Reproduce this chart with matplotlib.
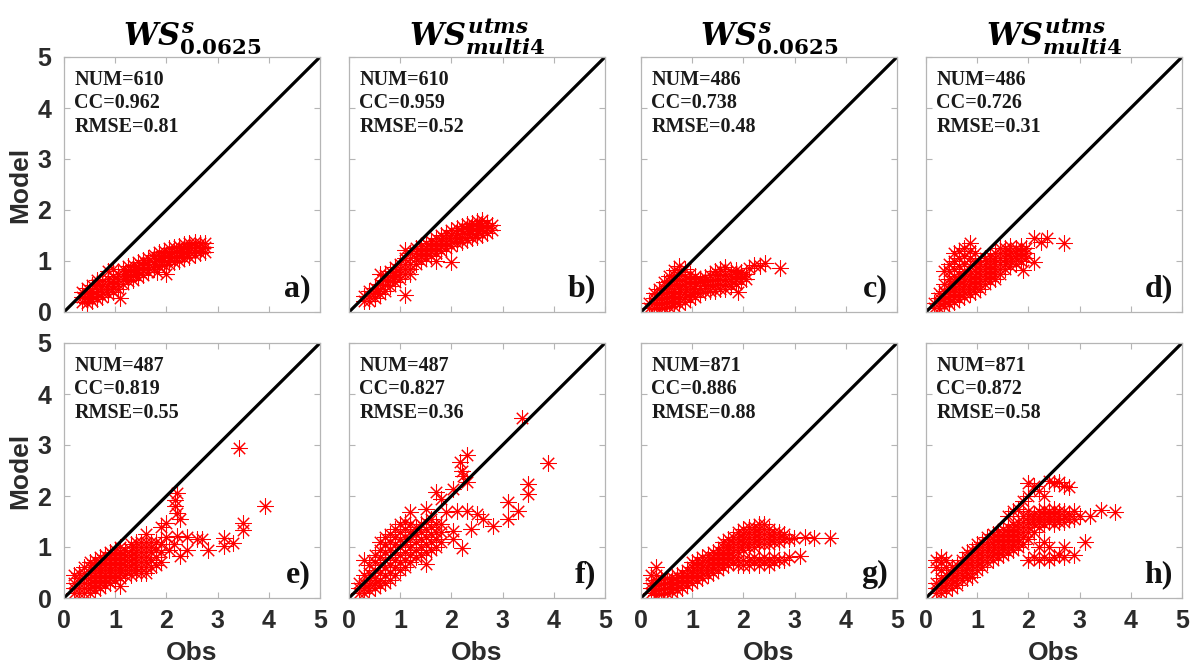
import numpy as np
import matplotlib
matplotlib.use('Agg')
import matplotlib.pyplot as plt

plt.rcParams['mathtext.fontset'] = 'custom'
plt.rcParams['mathtext.it'] = 'DejaVu Serif:italic:bold'
plt.rcParams['mathtext.rm'] = 'DejaVu Serif:bold'
plt.rcParams['mathtext.bf'] = 'DejaVu Serif:bold'

# panel titles, stats and labels
titles = [r'$WS^{s}_{0.0625}$', r'$WS^{utms}_{multi4}$', r'$WS^{s}_{0.0625}$', r'$WS^{utms}_{multi4}$']
nums = [610, 610, 486, 486, 487, 487, 871, 871]
ccs = ['0.962', '0.959', '0.738', '0.726', '0.819', '0.827', '0.886', '0.872']
rmses = ['0.81', '0.52', '0.48', '0.31', '0.55', '0.36', '0.88', '0.58']
panel_tags = ['a)', 'b)', 'c)', 'd)', 'e)', 'f)', 'g)', 'h)']
ticks = [0, 1, 2, 3, 4, 5]

# scatter clouds: (obs, [model values at that obs])
a_cols = [(0.35, [0.2, 0.3, 0.4]), (0.45, [0.18, 0.28, 0.38, 0.48]), (0.55, [0.22, 0.32, 0.42, 0.52]),
          (0.65, [0.25, 0.35, 0.45, 0.55, 0.62]), (0.75, [0.3, 0.4, 0.5, 0.6]), (0.85, [0.35, 0.45, 0.55, 0.65, 0.8]),
          (0.95, [0.4, 0.5, 0.6, 0.7, 0.85]), (1.05, [0.45, 0.55, 0.65, 0.75]), (1.15, [0.55, 0.65, 0.75, 0.85]),
          (1.25, [0.6, 0.7, 0.8, 0.9]), (1.35, [0.62, 0.72, 0.82, 0.92]), (1.45, [0.68, 0.78, 0.88, 0.98]),
          (1.55, [0.72, 0.82, 0.92, 1.02]), (1.65, [0.78, 0.88, 0.98, 1.05]), (1.75, [0.85, 0.95, 1.05, 1.12]),
          (1.85, [0.9, 1.0, 1.1, 1.18]), (1.95, [0.92, 1.02, 1.12, 1.2]), (2.05, [0.95, 1.05, 1.15, 1.25]),
          (2.15, [0.98, 1.08, 1.18, 1.28]), (2.25, [1.0, 1.1, 1.2, 1.3]), (2.35, [1.05, 1.15, 1.25, 1.33]),
          (2.45, [1.08, 1.18, 1.28, 1.36]), (2.55, [1.12, 1.22, 1.32, 1.38]), (2.65, [1.15, 1.25, 1.35]),
          (2.75, [1.18, 1.28, 1.36]), (1.09, [0.27]), (1.81, [0.79]), (2.0, [0.75])]

b_cols = [(0.3, [0.22, 0.32]), (0.4, [0.22, 0.32, 0.42]), (0.5, [0.28, 0.38, 0.48]), (0.6, [0.35, 0.45, 0.55, 0.75]),
          (0.7, [0.42, 0.52, 0.62, 0.72]), (0.8, [0.5, 0.6, 0.7, 0.8]), (0.9, [0.58, 0.68, 0.78, 0.88]),
          (1.0, [0.65, 0.75, 0.85, 0.95]), (1.1, [0.75, 0.85, 0.95, 1.05, 1.21, 0.33]), (1.2, [0.85, 0.95, 1.05, 1.15, 0.75]),
          (1.3, [0.95, 1.05, 1.15, 1.25]), (1.4, [1.0, 1.1, 1.2, 1.3]), (1.5, [1.05, 1.15, 1.25, 1.35]),
          (1.6, [1.1, 1.2, 1.3, 1.4]), (1.7, [1.0, 1.15, 1.25, 1.35, 1.45]), (1.8, [1.2, 1.3, 1.4, 1.5]),
          (1.9, [1.25, 1.35, 1.45, 1.55]), (2.0, [0.99, 1.3, 1.4, 1.5, 1.6]), (2.1, [1.35, 1.45, 1.55, 1.65]),
          (2.2, [1.38, 1.48, 1.58, 1.68]), (2.3, [1.42, 1.52, 1.62, 1.72]), (2.4, [1.45, 1.55, 1.65, 1.75]),
          (2.5, [1.48, 1.58, 1.68, 1.78]), (2.6, [1.5, 1.6, 1.7, 1.8]), (2.7, [1.55, 1.65, 1.75]), (2.8, [1.6, 1.7])]

c_cols = [(0.15, [0.08, 0.18]), (0.25, [0.08, 0.18, 0.28, 0.38]), (0.35, [0.05, 0.15, 0.25, 0.35, 0.45]),
          (0.45, [0.08, 0.18, 0.28, 0.38, 0.48, 0.58]), (0.55, [0.1, 0.2, 0.3, 0.4, 0.5, 0.6, 0.7]),
          (0.65, [0.12, 0.22, 0.32, 0.42, 0.52, 0.62, 0.72, 0.82]), (0.75, [0.15, 0.25, 0.35, 0.45, 0.55, 0.65, 0.78, 0.9]),
          (0.85, [0.2, 0.3, 0.4, 0.5, 0.6, 0.7, 0.85]), (0.95, [0.25, 0.35, 0.45, 0.55, 0.65, 0.75]),
          (1.05, [0.3, 0.4, 0.5, 0.6, 0.7]), (1.15, [0.38, 0.48, 0.58, 0.65]), (1.25, [0.4, 0.5, 0.6, 0.68]),
          (1.35, [0.42, 0.52, 0.62, 0.72]), (1.45, [0.42, 0.52, 0.62, 0.72, 0.8]), (1.55, [0.45, 0.55, 0.65, 0.75, 0.85]),
          (1.65, [0.45, 0.55, 0.65, 0.75, 0.88]), (1.75, [0.5, 0.6, 0.7, 0.8]), (1.85, [0.55, 0.65, 0.75, 0.82]),
          (1.95, [0.6, 0.7, 0.78]), (2.05, [0.65, 0.75]), (1.9, [0.4]), (2.33, [0.9]), (2.43, [0.97]),
          (2.72, [0.87]), (2.1, [0.87]), (2.2, [0.93])]

d_cols = [(0.15, [0.08, 0.18]), (0.25, [0.08, 0.18, 0.28, 0.38]), (0.35, [0.12, 0.22, 0.32, 0.42, 0.55, 0.8]),
          (0.45, [0.15, 0.25, 0.35, 0.45, 0.55, 0.65, 0.8, 0.95]), (0.55, [0.2, 0.3, 0.4, 0.5, 0.6, 0.7, 0.85, 1.0, 1.15]),
          (0.65, [0.25, 0.35, 0.45, 0.55, 0.65, 0.75, 0.9, 1.05, 1.2]),
          (0.75, [0.3, 0.4, 0.5, 0.6, 0.7, 0.8, 0.95, 1.1, 1.25]),
          (0.85, [0.35, 0.45, 0.55, 0.65, 0.75, 0.9, 1.05, 1.2, 1.35]),
          (0.95, [0.4, 0.5, 0.6, 0.7, 0.8, 0.9, 1.0, 1.15]), (1.05, [0.45, 0.55, 0.65, 0.75, 0.85, 0.95]),
          (1.15, [0.55, 0.65, 0.75, 0.85, 0.95, 1.05]), (1.25, [0.6, 0.7, 0.8, 0.9, 1.0, 1.1]),
          (1.35, [0.65, 0.75, 0.85, 0.95, 1.05, 1.15]), (1.45, [0.75, 0.85, 0.95, 1.05, 1.15, 1.25]),
          (1.55, [0.85, 0.95, 1.05, 1.15, 1.25]), (1.65, [0.9, 1.0, 1.1, 1.2, 1.3]), (1.75, [0.95, 1.05, 1.15, 1.25]),
          (1.85, [1.0, 1.1, 1.2, 1.3]), (1.95, [1.05, 1.15, 1.25]), (2.1, [1.45, 0.99]), (2.36, [1.45]),
          (2.69, [1.35]), (1.9, [0.82]), (2.25, [1.38])]

e_cols = [(0.2, [0.1, 0.2, 0.3, 0.45]), (0.3, [0.1, 0.2, 0.3, 0.4, 0.5]), (0.4, [0.1, 0.2, 0.3, 0.4, 0.5, 0.6]),
          (0.5, [0.1, 0.2, 0.3, 0.4, 0.5, 0.6, 0.7]), (0.6, [0.15, 0.25, 0.35, 0.45, 0.55, 0.65, 0.75]),
          (0.7, [0.2, 0.3, 0.4, 0.5, 0.6, 0.7, 0.8]), (0.8, [0.25, 0.35, 0.45, 0.55, 0.65, 0.75, 0.85]),
          (0.9, [0.3, 0.4, 0.5, 0.6, 0.7, 0.8, 0.9]), (1.0, [0.35, 0.45, 0.55, 0.65, 0.75, 0.85, 0.95]),
          (1.1, [0.23, 0.4, 0.5, 0.6, 0.7, 0.8, 0.9, 1.0]), (1.2, [0.45, 0.55, 0.65, 0.75, 0.85, 0.95]),
          (1.3, [0.45, 0.55, 0.65, 0.75, 0.85, 0.95, 1.05]), (1.4, [0.5, 0.6, 0.7, 0.8, 0.9, 1.0, 1.1]),
          (1.5, [0.5, 0.6, 0.7, 0.8, 0.9, 1.0, 1.1]), (1.6, [0.5, 0.6, 0.7, 0.8, 0.9, 1.0, 1.1, 1.25]),
          (1.7, [0.6, 0.75, 0.9, 1.0, 1.1]), (1.8, [0.65, 0.8, 0.95, 1.1]), (1.9, [0.7, 0.9, 1.05, 1.4]),
          (2.0, [1.2, 1.47]), (2.05, [0.95]), (2.15, [1.05]), (2.2, [1.22, 2.06, 1.67]), (2.17, [1.8, 1.93]),
          (2.27, [1.54, 0.82]), (2.4, [1.2, 0.95]), (2.6, [1.15]), (2.7, [1.15]), (2.82, [0.95]),
          (3.12, [1.18, 1.01]), (3.31, [1.08]), (3.5, [1.47, 1.34]), (3.41, [2.94]), (3.93, [1.8])]

f_cols = [(0.2, [0.1, 0.2, 0.3]), (0.3, [0.1, 0.2, 0.3, 0.45, 0.75]), (0.4, [0.15, 0.25, 0.35, 0.5, 0.65]),
          (0.5, [0.2, 0.3, 0.4, 0.55, 0.7, 0.85]), (0.6, [0.25, 0.35, 0.5, 0.65, 0.8, 0.95, 1.1]),
          (0.7, [0.3, 0.45, 0.6, 0.75, 0.9, 1.05, 1.2]), (0.8, [0.35, 0.5, 0.65, 0.8, 0.95, 1.1, 1.25]),
          (0.9, [0.45, 0.6, 0.75, 0.9, 1.05, 1.2, 1.35]), (1.0, [0.55, 0.7, 0.85, 1.0, 1.15, 1.3, 1.45]),
          (1.1, [0.6, 0.75, 0.9, 1.05, 1.2, 1.35, 1.5]), (1.2, [0.7, 0.85, 1.0, 1.15, 1.3, 1.45, 1.68]),
          (1.3, [0.8, 0.95, 1.1, 1.25, 1.4]), (1.4, [0.85, 1.0, 1.15, 1.3, 1.45]),
          (1.5, [0.66, 0.9, 1.05, 1.2, 1.35, 1.5, 1.74]), (1.6, [0.95, 1.1, 1.25, 1.4, 1.55]),
          (1.7, [1.0, 1.15, 1.3, 1.45, 2.07]), (1.8, [1.1, 1.3, 1.45, 1.94]), (1.9, [1.68]),
          (2.03, [1.32, 1.15, 2.14]), (2.1, [1.7]), (2.2, [0.99, 2.5]), (2.3, [1.7, 2.27, 2.8]), (2.16, [2.66]),
          (2.23, [2.4]), (2.39, [1.35]), (2.5, [1.65]), (2.62, [1.55]), (2.82, [1.41]), (3.11, [1.89, 1.55]),
          (3.31, [1.71]), (3.5, [2.24, 2.04]), (3.89, [2.65]), (3.37, [3.52])]

g_cols = [(0.2, [0.1, 0.2, 0.3, 0.45]), (0.3, [0.05, 0.15, 0.25, 0.35, 0.45, 0.6]), (0.4, [0.08, 0.18, 0.28, 0.38]),
          (0.5, [0.1, 0.2, 0.3, 0.4]), (0.6, [0.12, 0.22, 0.32, 0.42]), (0.7, [0.15, 0.25, 0.35, 0.45]),
          (0.8, [0.2, 0.3, 0.4, 0.5]), (0.9, [0.25, 0.35, 0.45, 0.55]), (1.0, [0.3, 0.4, 0.5, 0.6, 0.7]),
          (1.1, [0.35, 0.45, 0.55, 0.65, 0.75]), (1.2, [0.4, 0.5, 0.6, 0.7, 0.8]),
          (1.3, [0.45, 0.55, 0.65, 0.75, 0.85]), (1.4, [0.5, 0.6, 0.7, 0.8, 0.9]),
          (1.5, [0.55, 0.65, 0.75, 0.85, 0.95]), (1.6, [0.6, 0.7, 0.8, 0.9, 1.0, 1.1]),
          (1.7, [0.65, 0.75, 0.85, 0.95, 1.05, 1.15]), (1.8, [0.7, 0.8, 0.9, 1.0, 1.1, 1.2]),
          (1.9, [0.65, 0.75, 0.9, 1.0, 1.1, 1.2, 1.3]), (2.0, [0.65, 0.75, 0.95, 1.05, 1.15, 1.25, 1.35]),
          (2.1, [0.65, 0.75, 1.0, 1.1, 1.2, 1.3, 1.4]), (2.2, [0.7, 0.8, 1.0, 1.1, 1.2, 1.3, 1.4]),
          (2.3, [0.65, 0.75, 1.05, 1.15, 1.25, 1.35, 1.45]), (2.4, [0.7, 0.8, 1.05, 1.15, 1.25, 1.35, 1.45]),
          (2.5, [0.65, 0.75, 1.05, 1.15, 1.25, 1.35]), (2.6, [0.7, 0.8, 1.1, 1.2, 1.3]),
          (2.7, [0.75, 1.1, 1.2, 1.3]), (2.8, [0.75, 1.15, 1.25]), (2.9, [0.8, 1.15]), (2.98, [1.18]),
          (3.11, [0.82]), (3.2, [1.2]), (3.37, [1.18]), (3.7, [1.18])]

h_cols = [(0.2, [0.1, 0.2, 0.3, 0.6, 0.75]), (0.3, [0.1, 0.2, 0.3, 0.4, 0.55, 0.7, 0.8]),
          (0.4, [0.15, 0.25, 0.35, 0.45, 0.6, 0.75]), (0.5, [0.2, 0.3, 0.4, 0.5, 0.6]),
          (0.6, [0.25, 0.35, 0.45, 0.55, 0.65]), (0.7, [0.35, 0.45, 0.55, 0.65, 0.75]),
          (0.8, [0.4, 0.5, 0.6, 0.7, 0.8, 0.9]), (0.9, [0.41, 0.55, 0.65, 0.75, 0.85, 0.95]),
          (1.0, [0.55, 0.65, 0.75, 0.85, 0.95, 1.05]), (1.1, [0.6, 0.7, 0.8, 0.9, 1.0, 1.1]),
          (1.2, [0.7, 0.8, 0.9, 1.0, 1.1, 1.2]), (1.3, [0.75, 0.85, 0.95, 1.05, 1.15, 1.25]),
          (1.4, [0.8, 0.9, 1.0, 1.1, 1.2, 1.3]), (1.5, [0.85, 0.95, 1.05, 1.15, 1.25, 1.35]),
          (1.6, [0.9, 1.0, 1.1, 1.2, 1.3, 1.4, 1.6]), (1.7, [0.95, 1.05, 1.15, 1.25, 1.35, 1.45, 1.7]),
          (1.8, [1.0, 1.1, 1.2, 1.3, 1.4, 1.5, 1.75]), (1.9, [1.05, 1.2, 1.3, 1.4, 1.5, 1.6, 1.9]),
          (2.0, [0.75, 1.15, 1.3, 1.4, 1.5, 1.6, 1.7, 2.0, 2.25]), (2.1, [0.8, 1.3, 1.45, 1.55, 1.65, 2.2]),
          (2.2, [0.75, 1.0, 1.4, 1.5, 1.6, 1.7, 2.1]), (2.3, [0.8, 1.1, 1.45, 1.55, 1.65, 1.75, 2.0]),
          (2.4, [0.75, 1.0, 1.5, 1.6, 1.7, 2.3]), (2.5, [0.8, 1.45, 1.55, 1.65, 1.75, 2.25]),
          (2.6, [0.85, 1.5, 1.6, 1.7, 2.28]), (2.7, [0.8, 1.0, 1.5, 1.6, 1.7, 2.2]), (2.8, [1.55, 1.65, 2.18]),
          (2.9, [0.85, 1.55, 1.7]), (3.0, [1.6]), (3.1, [1.1]), (3.2, [1.6]), (3.42, [1.72]), (3.69, [1.69])]

all_cols = [a_cols, b_cols, c_cols, d_cols, e_cols, f_cols, g_cols, h_cols]

W, H = 1190, 670
fig = plt.figure(figsize=(W / 100, H / 100), dpi=100)

col_left = [64, 349, 641, 926]
row_top = [57, 343]
ax_w, ax_h = 256, 255
frame = '#b5b5b5'
txt = '#2b2b2b'

for k in range(8):
    r, c = divmod(k, 4)
    ax = fig.add_axes([col_left[c] / W, 1 - (row_top[r] + ax_h) / H, ax_w / W, ax_h / H])
    xs, ys = [], []
    for ox, mv in all_cols[k]:
        for m in mv:
            xs.append(ox)
            ys.append(m)
    ax.plot(xs, ys, ls='none', marker=(8, 2, 0), ms=11.5, mec='red', mew=0.75)
    ax.plot([ticks[0], ticks[-1]], [ticks[0], ticks[-1]], color='black', lw=2.3)
    ax.set_xlim(ticks[0], ticks[-1])
    ax.set_ylim(ticks[0], ticks[-1])
    ax.set_xticks(ticks)
    ax.set_yticks(ticks)
    ax.set_xticklabels([str(t) for t in ticks] if r == 1 else [],
                       fontsize=18, fontweight='bold', family='Liberation Sans', color=txt)
    ax.set_yticklabels([str(t) for t in ticks] if c == 0 else [],
                       fontsize=18, fontweight='bold', family='Liberation Sans', color=txt)
    ax.tick_params(direction='in', top=True, right=True, length=4, width=0.8, color=frame)
    ax.tick_params(axis='x', pad=8)
    ax.tick_params(axis='y', pad=9)
    for s in ax.spines.values():
        s.set_color(frame)
        s.set_linewidth(0.9)
    if r == 0:
        ax.set_title(titles[c], fontsize=22, pad=5)
    else:
        ax.set_xlabel('Obs', fontsize=19, fontweight='bold', family='Liberation Sans', color=txt, labelpad=6)
    if c == 0:
        ax.set_ylabel('Model', fontsize=19, fontweight='bold', family='Liberation Sans', color=txt, labelpad=4)
    stats = 'NUM=%d\nCC=%s\nRMSE=%s' % (nums[k], ccs[k], rmses[k])
    ax.text(0.04, 0.95, stats, transform=ax.transAxes, ha='left', va='top', fontsize=14.5,
            fontweight='bold', family='Liberation Serif', color='#1a1a1a', linespacing=1.25)
    ax.text(0.965, 0.035, panel_tags[k], transform=ax.transAxes, ha='right', va='bottom', fontsize=23,
            fontweight='bold', family='Liberation Serif', color='#111111')

fig.savefig('out.png', dpi=100)
